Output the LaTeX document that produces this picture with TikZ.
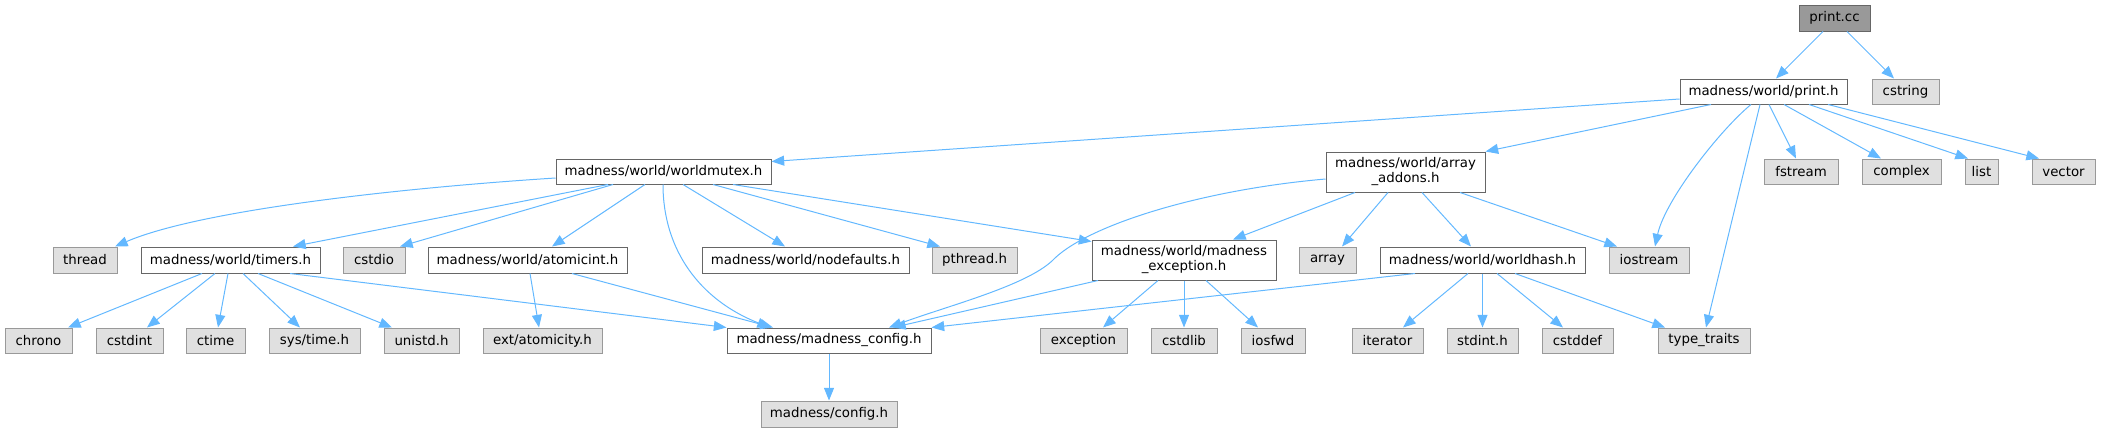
\documentclass[tikz,border=0pt]{standalone}
\usepackage{fontspec}
\setmainfont{DejaVu Sans}
\usetikzlibrary{arrows.meta,calc}
\definecolor{edgec}{HTML}{63B8FF}
\definecolor{gfill}{HTML}{E0E0E0}
\definecolor{gdraw}{HTML}{999999}
\definecolor{wdraw}{HTML}{666666}
\definecolor{rootfill}{HTML}{999999}
\begin{document}
\begin{tikzpicture}[x=0.75pt,y=-0.75pt,
  box/.style 2 args={draw, line width=0.75pt, inner sep=0pt, minimum width=#1*0.75pt, minimum height=#2*0.75pt, font=\fontsize{10}{11.25}\selectfont, align=center},
  wbox/.style={fill=white, draw=wdraw},
  gbox/.style={fill=gfill, draw=gdraw},
  rbox/.style={fill=rootfill, draw=wdraw},
  dep/.style={draw=edgec, line width=0.75pt, -{Triangle[length=9.5pt,width=7.5pt]}}
]
\useasboundingbox (0,0) rectangle (2101,432);
% row 0-2
\node[box={71}{26},rbox] (pcc) at (1834.5,18) {print.cc};
\node[box={167}{25},wbox] (printh) at (1763.5,91.5) {madness/world/print.h};
\node[box={67}{25},gbox] (cstring) at (1905.5,91.5) {cstring};
\node[box={215}{25},wbox] (mutex) at (663.5,171.5) {madness/world/worldmutex.h};
\node[box={159}{40},wbox] (arr) at (1405.5,172) {madness/world/array\\\_addons.h};
\node[box={74}{25},gbox] (fstream) at (1801,171.5) {fstream};
\node[box={79}{25},gbox] (complex) at (1901.5,171.5) {complex};
\node[box={33}{25},gbox] (list) at (1981.5,171.5) {list};
\node[box={63}{25},gbox] (vector) at (2063.5,171.5) {vector};
% row 3
\node[box={64}{26},gbox] (thread) at (85,260) {thread};
\node[box={179}{26},wbox] (timers) at (230.5,260) {madness/world/timers.h};
\node[box={62}{26},gbox] (cstdio) at (374,260) {cstdio};
\node[box={199}{26},wbox] (atomicint) at (527.5,260) {madness/world/atomicint.h};
\node[box={207}{26},wbox] (nodefaults) at (805.5,260) {madness/world/nodefaults.h};
\node[box={85}{26},gbox] (pthread) at (974.5,260) {pthread.h};
\node[box={184}{40},wbox] (madexc) at (1184,260) {madness/world/madness\\\_exception.h};
\node[box={57}{26},gbox] (array) at (1327.5,260) {array};
\node[box={205}{26},wbox] (worldhash) at (1482.5,260) {madness/world/worldhash.h};
\node[box={80}{26},gbox] (iostream) at (1649,260) {iostream};
% row 4
\node[box={67}{25},gbox] (chrono) at (38.5,340.5) {chrono};
\node[box={67}{25},gbox] (cstdint) at (129.5,340.5) {cstdint};
\node[box={59}{25},gbox] (ctime) at (215.5,340.5) {ctime};
\node[box={91}{25},gbox] (systime) at (314.5,340.5) {sys/time.h};
\node[box={75}{25},gbox] (unistd) at (421.5,340.5) {unistd.h};
\node[box={119}{25},gbox] (extatom) at (542.5,340.5) {ext/atomicity.h};
\node[box={204}{25},wbox] (madconfig) at (829,340.5) {madness/madness\_config.h};
\node[box={87}{25},gbox] (exception) at (1083.5,340.5) {exception};
\node[box={66}{25},gbox] (cstdlib) at (1184,340.5) {cstdlib};
\node[box={64}{25},gbox] (iosfwd) at (1273,340.5) {iosfwd};
\node[box={71}{25},gbox] (iterator) at (1387.5,340.5) {iterator};
\node[box={71}{25},gbox] (stdint) at (1482.5,340.5) {stdint.h};
\node[box={71}{25},gbox] (cstddef) at (1577.5,340.5) {cstddef};
\node[box={92}{25},gbox] (typetraits) at (1704,340.5) {type\_traits};
% row 5
\node[box={136}{26},gbox] (config) at (829,414) {madness/config.h};
% edges from print.cc
\draw[dep] ($(pcc.south)+(-11.5,0)$) -- ($(printh.north)+(12.5,0)$);
\draw[dep] ($(pcc.south)+(12.5,0)$) -- ($(cstring.north)+(-11.5,0)$);
% edges from print.h
\draw[dep] ($(printh.west)+(0,7.5)$) -- ($(mutex.north east)+(0,3)$);
\draw[dep] ($(printh.south)+(-52.5,0)$) -- (arr.north east);
\draw[dep] ($(printh.south)+(-12.5,0)$) .. controls (1720,130) and (1665,200) .. ($(iostream.north)+(6,0)$);
\draw[dep] ($(printh.south)+(-3.5,0)$) -- ($(typetraits.north)+(2,0)$);
\draw[dep] ($(printh.south)+(5.5,0)$) -- ($(fstream.north)+(-5,0)$);
\draw[dep] ($(printh.south)+(20.5,0)$) -- ($(complex.north)+(-20.5,0)$);
\draw[dep] ($(printh.south)+(45.5,0)$) -- ($(list.north)+(-13.5,0)$);
\draw[dep] ($(printh.south)+(64.5,0)$) -- ($(vector.north)+(-24.5,0)$);
% edges from worldmutex.h
\draw[dep] ($(mutex.west)+(0,6.5)$) .. controls (400,188) and (200,210) .. ($(thread.north)+(30,0)$);
\draw[dep] ($(mutex.south)+(-55.5,0)$) -- ($(timers.north)+(62.5,0)$);
\draw[dep] ($(mutex.south)+(-50.5,0)$) -- ($(cstdio.north)+(26,0)$);
\draw[dep] ($(mutex.south)+(-18.5,0)$) -- ($(atomicint.north)+(24.5,0)$);
\draw[dep] ($(mutex.south)+(-0.5,0)$) .. controls (663,250) and (700,300) .. ($(madconfig.north)+(-59,0)$);
\draw[dep] ($(mutex.south)+(19.5,0)$) -- ($(nodefaults.north)+(-20.5,0)$);
\draw[dep] ($(mutex.south)+(49.5,0)$) -- ($(pthread.north)+(-34.5,0)$);
\draw[dep] ($(mutex.south)+(69.5,0)$) -- ($(madexc.north west)+(0,2)$);
% edges from array_addons.h
\draw[dep] ($(arr.west)+(0,7)$) .. controls (1200,190) and (1090,225) .. (1055,258) .. controls (1030,285) and (950,305) .. ($(madconfig.north)+(60,0)$);
\draw[dep] ($(arr.south)+(-50.5,0)$) -- ($(madexc.north)+(49,0)$);
\draw[dep] ($(arr.south)+(-17.5,0)$) -- ($(array.north)+(14.5,0)$);
\draw[dep] ($(arr.south)+(16.5,0)$) -- ($(worldhash.north)+(-11.5,0)$);
\draw[dep] ($(arr.south)+(54.5,0)$) -- ($(iostream.north)+(-32,0)$);
% edges from timers.h
\draw[dep] ($(timers.south)+(-28.5,0)$) -- ($(chrono.north)+(29.5,0)$);
\draw[dep] ($(timers.south)+(-15.5,0)$) -- ($(cstdint.north)+(17.5,0)$);
\draw[dep] ($(timers.south)+(-2.5,0)$) -- ($(ctime.north)+(2.5,0)$);
\draw[dep] ($(timers.south)+(12.5,0)$) -- ($(systime.north)+(-14.5,0)$);
\draw[dep] ($(timers.south)+(27.5,0)$) -- ($(unistd.north)+(-29.5,0)$);
\draw[dep] ($(timers.south)+(59.5,0)$) -- (madconfig.north west);
% edges from atomicint.h
\draw[dep] ($(atomicint.south)+(2.5,0)$) -- ($(extatom.north)+(-3.5,0)$);
\draw[dep] ($(atomicint.south)+(44.5,0)$) -- ($(madconfig.north)+(-56,0)$);
% edges from madness_exception.h
\draw[dep] ($(madexc.south)+(-86,0)$) -- ($(madconfig.north)+(64,0)$);
\draw[dep] ($(madexc.south)+(-26,0)$) -- ($(exception.north)+(19.5,0)$);
\draw[dep] (madexc.south) -- (cstdlib.north);
\draw[dep] ($(madexc.south)+(22,0)$) -- ($(iosfwd.north)+(-15,0)$);
% edges from worldhash.h
\draw[dep] ($(worldhash.south)+(-67.5,0)$) -- (madconfig.north east);
\draw[dep] ($(worldhash.south)+(-14.5,0)$) -- ($(iterator.north)+(15.5,0)$);
\draw[dep] (worldhash.south) -- (stdint.north);
\draw[dep] ($(worldhash.south)+(14.5,0)$) -- ($(cstddef.north)+(-14.5,0)$);
\draw[dep] ($(worldhash.south)+(32.5,0)$) -- ($(typetraits.north)+(-39,0)$);
% madness_config.h
\draw[dep] (madconfig.south) -- (config.north);
\end{tikzpicture}
\end{document}
